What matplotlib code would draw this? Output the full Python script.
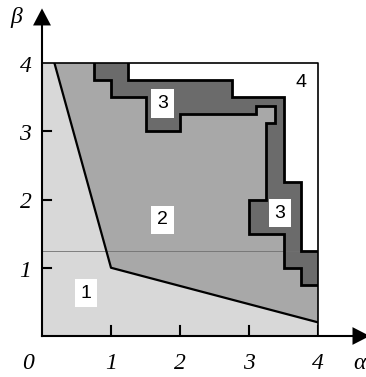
import matplotlib
matplotlib.use("Agg")
import matplotlib.pyplot as plt
from matplotlib.patches import Polygon

# ---- data ----
xticks = [0, 1, 2, 3, 4]
xtick_labels = ["0", "1", "2", "3", "4"]
yticks = [1, 2, 3, 4]
ytick_labels = ["1", "2", "3", "4"]

# region 1 boundary (light region, lower-left)
region1_x = [0, 0, 0.18, 1.0, 4.0, 4.0]
region1_y = [0, 4, 4, 1.0, 0.2, 0]

# inner boundary (medium / dark)
inner_x = [0.75, 0.75, 1.0, 1.0, 1.5, 1.5, 2.0, 2.0, 3.1, 3.1, 3.375, 3.375, 3.25, 3.25, 3.0, 3.0, 3.5, 3.5, 3.75, 3.75, 4.0]
inner_y = [4.0, 3.75, 3.75, 3.5, 3.5, 3.0, 3.0, 3.25, 3.25, 3.375, 3.375, 3.125, 3.125, 2.0, 2.0, 1.5, 1.5, 1.0, 1.0, 0.75, 0.75]

# outer boundary (dark / white)
outer_x = [1.25, 1.25, 2.75, 2.75, 3.5, 3.5, 3.75, 3.75, 4.0]
outer_y = [4.0, 3.75, 3.75, 3.5, 3.5, 2.25, 2.25, 1.25, 1.25]

region_labels = ["1", "2", "3", "3", "4"]
label_x = [0.64, 1.75, 1.75, 3.45, 3.75]
label_y = [0.63, 1.70, 3.41, 1.80, 3.72]
label_boxed = [True, True, True, True, False]

c_light = "#d8d8d8"
c_mid = "#a8a8a8"
c_dark = "#6b6b6b"

fig = plt.figure(figsize=(3.66, 3.77), dpi=100)
ax = fig.add_axes([42/366, 1-336/377, (318-42)/366, (336-63)/377])
ax.set_xlim(0, 4)
ax.set_ylim(0, 4)
ax.axis("off")

# medium background
ax.add_patch(Polygon([(0, 0), (0, 4), (4, 4), (4, 0)], closed=True, fc=c_mid, ec="none", zorder=1))
# light region 1
ax.add_patch(Polygon(list(zip(region1_x, region1_y)), closed=True, fc=c_light, ec="none", zorder=2))
ax.plot(region1_x[2:5], region1_y[2:5], color="black", lw=1.6, zorder=5)

# dark band (+ white) above inner boundary
dark_pts = list(zip(inner_x, inner_y)) + [(4, 4)]
ax.add_patch(Polygon(dark_pts, closed=True, fc=c_dark, ec="none", zorder=3))
white_pts = list(zip(outer_x, outer_y)) + [(4, 4)]
ax.add_patch(Polygon(white_pts, closed=True, fc="white", ec="none", zorder=4))

# thin horizontal line at 1.25
ax.plot([0, 4], [1.25, 1.25], color="#707070", lw=0.6, zorder=3.5)

ax.plot(inner_x, inner_y, color="black", lw=2.0, zorder=5, solid_joinstyle="miter")
ax.plot(outer_x, outer_y, color="black", lw=2.0, zorder=5, solid_joinstyle="miter")

# border lines (top and right)
ax.plot([0, 4, 4], [4, 4, 0], color="black", lw=1.2, zorder=6, clip_on=False)

# axes with arrows
ax.plot([0, 4.55], [0, 0], color="black", lw=1.5, zorder=6, clip_on=False)
ax.plot([0, 0], [0, 4.6], color="black", lw=1.5, zorder=6, clip_on=False)
ax.add_patch(Polygon([(4.5, -0.13), (4.5, 0.13), (4.75, 0)], closed=True, fc="black", ec="none", clip_on=False, zorder=7))
ax.add_patch(Polygon([(-0.13, 4.55), (0.13, 4.55), (0, 4.8)], closed=True, fc="black", ec="none", clip_on=False, zorder=7))

# ticks (inward)
for t in xticks[1:]:
    ax.plot([t, t], [0, 0.14], color="black", lw=1.5, zorder=6)
for t in yticks[:-1]:
    ax.plot([0, 0.13], [t, t], color="black", lw=1.5, zorder=6)

serif = dict(family="Liberation Serif", style="italic", fontsize=17)
for t, lab in zip(xticks, xtick_labels):
    xx = -0.2 if t == 0 else t
    ax.text(xx, -0.4, lab, ha="center", va="center", clip_on=False, **serif)
for t, lab in zip(yticks, ytick_labels):
    ax.text(-0.24, t - 0.05, lab, ha="center", va="center", clip_on=False, **serif)
ax.text(-0.38, 4.66, "β", ha="center", va="center", clip_on=False, **serif)
ax.text(4.6, -0.4, "α", ha="center", va="center", clip_on=False, **serif)

for lab, x, y, boxed in zip(region_labels, label_x, label_y, label_boxed):
    kw = dict(family="Liberation Sans", fontsize=14, ha="center", va="center", zorder=8)
    if boxed:
        kw["bbox"] = dict(boxstyle="square,pad=0.3", fc="white", ec="none")
    ax.text(x, y, lab, **kw)

fig.savefig("out.png", dpi=100)
